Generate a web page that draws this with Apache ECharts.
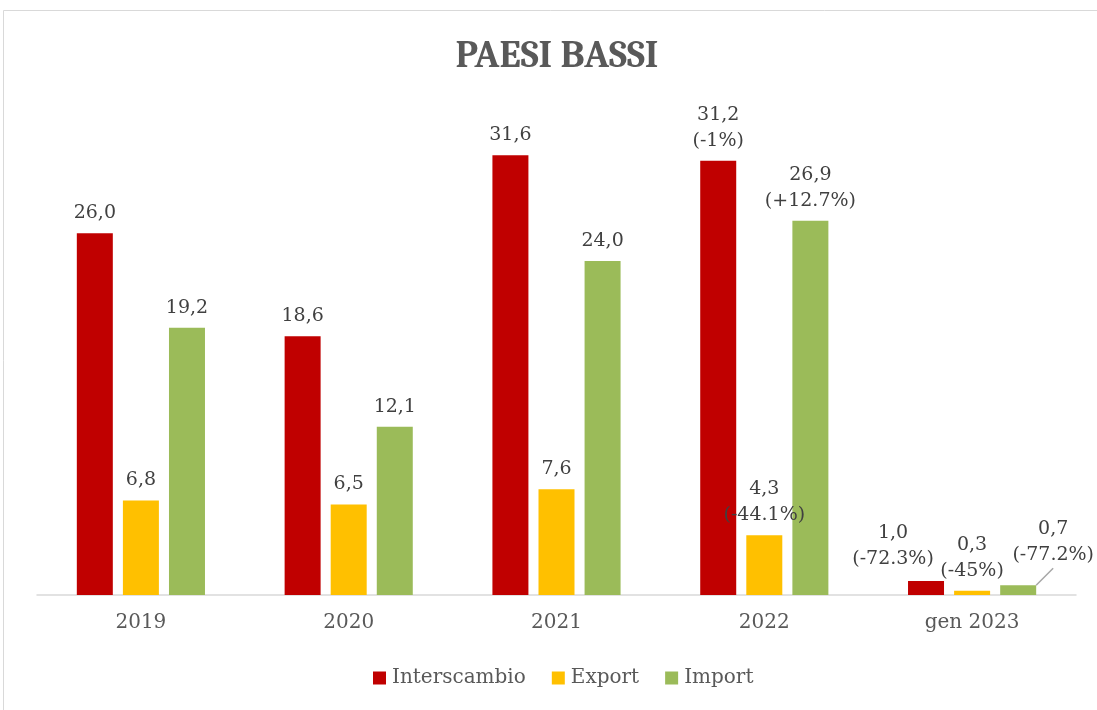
<!DOCTYPE html>
<html>
<head>
<meta charset="utf-8">
<script src="https://cdn.jsdelivr.net/npm/echarts@6/dist/echarts.min.js"></script>
<style>
  html, body { margin: 0; padding: 0; background: #fff; }
  #main { width: 1097px; height: 710px; }
</style>
</head>
<body>
<div id="main"></div>
<script>
// dati
var anni = ['2019', '2020', '2021', '2022', 'gen 2023'];
var interscambio = [26.0, 18.6, 31.6, 31.2, 1.0];
var esportazioni = [6.8, 6.5, 7.6, 4.3, 0.3];
var importazioni = [19.2, 12.1, 24.0, 26.9, 0.7];
// variazioni percentuali mostrate sotto il valore
var varInterscambio = ['', '', '', '-1%', '-72.3%'];
var varExport = ['', '', '', '-44.1%', '-45%'];
var varImport = ['', '', '', '+12.7%', '-77.2%'];

var font = '"DejaVu Serif", serif';
var fontTitolo = 'Cambria, "Liberation Serif", serif';

function fmt(varArr) {
  return function (p) {
    var s = p.value.toFixed(1).replace('.', ',');
    if (varArr[p.dataIndex]) s += '\n(' + varArr[p.dataIndex] + ')';
    return s;
  };
}

var labelBase = {
  show: true,
  position: 'top',
  distance: 7,
  color: '#404040',
  fontFamily: font,
  fontSize: 19,
  lineHeight: 26
};

var chart = echarts.init(document.getElementById('main'));
var option = {
  backgroundColor: '#fff',
  title: {
    text: 'PAESI BASSI',
    left: 552,
    textAlign: 'center',
    top: 32,
    textStyle: { fontFamily: fontTitolo, fontWeight: 'bold', fontSize: 38, color: '#595959' }
  },
  graphic: [{
    type: 'rect',
    shape: { x: 3.5, y: 10.5, width: 1100, height: 710 },
    style: { fill: 'none', stroke: '#d9d9d9', lineWidth: 1 },
    silent: true
  }],
  legend: {
    bottom: 17,
    left: 368,
    itemWidth: 13,
    itemHeight: 13,
    itemGap: 26,
    icon: 'rect',
    textStyle: { fontFamily: font, fontSize: 20, color: '#595959', padding: [0, 0, 0, 1] },
    data: ['Interscambio', 'Export', 'Import']
  },
  grid: { left: 37, right: 21, top: 108, bottom: 115 },
  xAxis: {
    type: 'category',
    data: anni,
    axisLine: { lineStyle: { color: '#d9d9d9', width: 1.5 } },
    axisTick: { show: false },
    axisLabel: { margin: 18, fontFamily: font, fontSize: 20, color: '#595959' }
  },
  yAxis: {
    type: 'value',
    min: 0,
    max: 35,
    show: false,
    splitLine: { show: false }
  },
  series: [
    {
      name: 'Interscambio',
      type: 'bar',
      barWidth: 36,
      barGap: '28%',
      itemStyle: { color: '#C00000' },
      data: interscambio,
      label: Object.assign({}, labelBase, { formatter: fmt(varInterscambio) }),
      labelLayout: function (p) {
        if (p.dataIndex === 4) return { dx: -33, dy: -2 };
        return {};
      }
    },
    {
      name: 'Export',
      type: 'bar',
      barWidth: 36,
      barGap: '28%',
      itemStyle: { color: '#FFC000' },
      data: esportazioni,
      label: Object.assign({}, labelBase, { formatter: fmt(varExport) })
    },
    {
      name: 'Import',
      type: 'bar',
      barWidth: 36,
      barGap: '28%',
      itemStyle: { color: '#9BBB59' },
      data: importazioni.map(function (v, i) {
        return i === 4 ? { value: v, labelLine: { show: true } } : v;
      }),
      label: Object.assign({}, labelBase, { formatter: fmt(varImport) }),
      labelLine: { show: false, lineStyle: { color: '#a6a6a6', width: 1.5 } },
      labelLayout: function (p) {
        if (p.dataIndex === 4) return { dx: 35, dy: -10 };
        return {};
      }
    }
  ]
};
chart.setOption(option);
</script>
</body>
</html>
